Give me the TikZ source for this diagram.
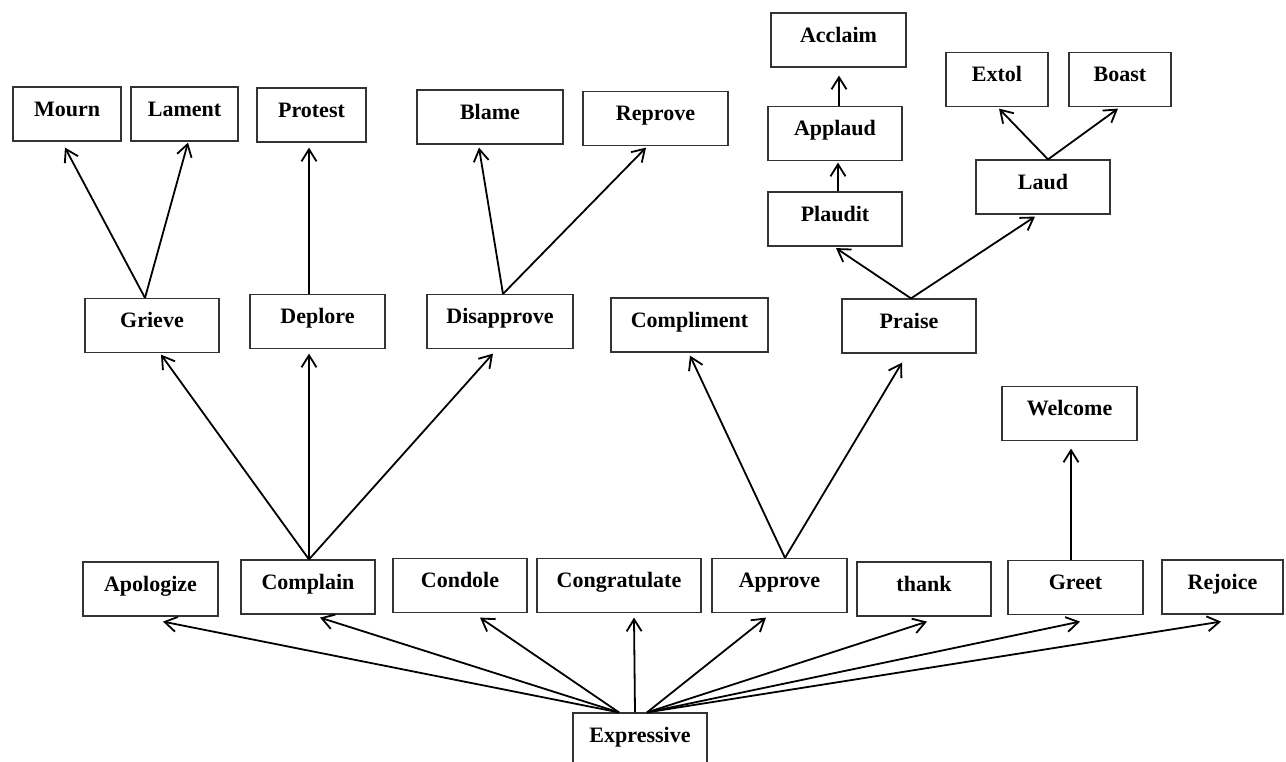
\documentclass[tikz,border=0pt]{standalone}
\usepackage{fontspec}
\setmainfont{Liberation Serif}
\usepackage{tikz}
\usetikzlibrary{arrows.meta,calc}
\tikzset{
  verb/.style  ={draw=black!80,line width=0.6pt,inner sep=0pt,minimum height=27pt,
                 text height=14.5pt,text depth=12.5pt,font=\fontsize{11}{13}\selectfont\bfseries},
  sub/.style   ={-{Straight Barb[length=6pt,width=7.5pt]},line width=0.9pt},
}
\begin{document}
\begin{tikzpicture}[x=0.5pt,y=-0.5pt]
  \useasboundingbox (0,0) rectangle (1286,761);
  % upper levels
  \foreach \name/\x/\y/\w/\txt in {
     mourn/67/114/54pt/Mourn, lament/184.5/114/53.5pt/Lament,
     protest/311.5/115/54.5pt/Protest, blame/490/117/73pt/Blame,
     reprove/655.5/118.5/72.5pt/Reprove, acclaim/838.5/40/67.5pt/Acclaim,
     extol/997/79.5/51pt/Extol, boast/1120/79.5/51pt/Boast,
     applaud/835/133.5/67pt/Applaud, laud/1043/187/67pt/Laud,
     plaudit/835/219/67pt/Plaudit}{
     \node[verb,minimum width=\w] (\name) at (\x,\y) {\txt};
  }
  \foreach \name/\x/\y/\w/\txt in {
     grieve/152/325.5/67pt/Grieve, deplore/317.5/321.5/67.5pt/Deplore,
     disapprove/500/321.5/73pt/Disapprove, compliment/689.5/325/78.5pt/Compliment,
     praise/909/326/67pt/Praise, welcome/1069.5/413.5/67.5pt/Welcome}{
     \node[verb,minimum width=\w] (\name) at (\x,\y) {\txt};
  }
  % first level
  \foreach \name/\x/\y/\w/\txt in {
     apologize/150.5/589/67.5pt/Apologize, complain/308/587/67pt/Complain,
     condole/460/585.5/67pt/Condole, congratulate/619/585.5/82pt/Congratulate,
     approve/779.5/585.5/67.5pt/Approve, thank/924/589/67pt/thank,
     greet/1075.5/587.5/67.5pt/Greet, rejoice/1222.5/587/60.5pt/Rejoice}{
     \node[verb,minimum width=\w] (\name) at (\x,\y) {\txt};
  }
  \node[verb,minimum width=67pt] (expressive) at (640,740) {Expressive};
  % arrows
  \foreach \s/\sx/\t/\tx/\ty in {
     expressive/-21/apologize/12.5/5, expressive/-21/complain/12/3,
     expressive/-21/condole/20/4.5, expressive/-5/congratulate/15/4.5,
     expressive/7/approve/-13.5/4.5, expressive/7/thank/3/5,
     expressive/7/greet/4.5/6.5, expressive/7/rejoice/-1.5/7,
     complain/1/grieve/9/1.5, complain/1/deplore/-8.5/4.5,
     complain/1/disapprove/-7/4.5, grieve/-7/mourn/-2/6,
     grieve/-7/lament/3.5/1, deplore/-8.5/protest/-2.5/5,
     disapprove/3/blame/-11/3, disapprove/3/reprove/-9.5/1.5,
     approve/5.5/compliment/0.5/3, approve/5.5/praise/-7/9,
     praise/2/plaudit/1/1.5, praise/2/laud/-8/2,
     plaudit/3/applaud/3/1.5, applaud/4/acclaim/0.5/8,
     laud/5/extol/2/1.5, laud/5/boast/-2/1.5,
     greet/-4.5/welcome/1.5/7.5}{
     \draw[sub] ($(\s.north)+(\sx,0)$) -- ($(\t.south)+(\tx,\ty)$);
  }
\end{tikzpicture}
\end{document}
